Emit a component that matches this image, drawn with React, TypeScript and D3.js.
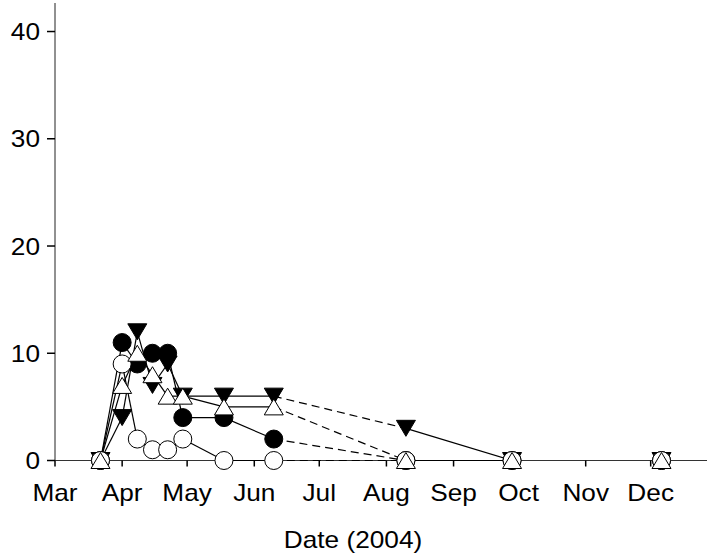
import React from 'react';
import * as d3 from 'd3';

const dates = ['2004-03-22', '2004-04-01', '2004-04-08', '2004-04-15', '2004-04-22', '2004-04-29', '2004-05-18', '2004-06-10', '2004-08-10', '2004-09-28', '2004-12-06'];
const filledCircle = [0, 11, 9, 10, 10, 4, 4, 2, 0, 0, 0];
const filledTriangle = [0, 4, 12, 7, 9, 6, 6, 6, 3, 0, 0];
const openCircle = [0, 9, 2, 1, 1, 2, 0, 0, 0, 0, 0];
const openTriangle = [0, 7, 10, 8, 6, 6, 5, 5, 0, 0, 0];
// style of segment joining point i to point i+1
const segmentStyle = ['solid', 'solid', 'solid', 'solid', 'solid', 'solid', 'solid', 'dashed', 'solid', 'none'];
const monthTicks = ['2004-03-01', '2004-04-01', '2004-05-01', '2004-06-01', '2004-07-01', '2004-08-01', '2004-09-01', '2004-10-01', '2004-11-01', '2004-12-01'];
const monthLabels = ['Mar', 'Apr', 'May', 'Jun', 'Jul', 'Aug', 'Sep', 'Oct', 'Nov', 'Dec'];
const yTicks = [0, 10, 20, 30, 40];
const xTitle = 'Date (2004)';

const parse = d3.timeParse('%Y-%m-%d');
const FONT = '"Liberation Sans", Arial, Helvetica, sans-serif';
const STRETCH = 1.14;
const FS = 23;

type Kind = 'filledCircle' | 'filledTriangle' | 'openCircle' | 'openTriangle';
const series: { kind: Kind; values: number[] }[] = [
  { kind: 'filledCircle', values: filledCircle },
  { kind: 'filledTriangle', values: filledTriangle },
  { kind: 'openCircle', values: openCircle },
  { kind: 'openTriangle', values: openTriangle },
];

export default function App() {
  const W = 707, H = 556;
  const x0 = 55, x1 = 707, y0 = 460.5, yTop = 3;
  const x = d3.scaleTime().domain([parse('2004-03-01')!, parse('2004-12-27')!]).range([x0, x1]);
  const y = d3.scaleLinear().domain([0, 42.66]).range([y0, yTop]);
  const pts = dates.map((d) => parse(d)!);
  const line = d3.line<[number, number]>().x((p) => p[0]).y((p) => p[1]);

  const marker = (kind: Kind, cx: number, cy: number, key: string) => {
    const r = 9, hw = 9.5, hh = 8;
    if (kind === 'filledCircle') return <circle key={key} cx={cx} cy={cy} r={r} fill="#000" stroke="#000" strokeWidth={1} />;
    if (kind === 'openCircle') return <circle key={key} cx={cx} cy={cy} r={r} fill="#fff" stroke="#000" strokeWidth={1} />;
    if (kind === 'filledTriangle')
      return <path key={key} d={`M${cx - hw},${cy - hh}L${cx + hw},${cy - hh}L${cx},${cy + hh}Z`} fill="#000" stroke="#000" strokeWidth={1} />;
    return <path key={key} d={`M${cx},${cy - hh}L${cx + hw},${cy + hh}L${cx - hw},${cy + hh}Z`} fill="#fff" stroke="#000" strokeWidth={1} />;
  };

  return (
    <svg width={W} height={H} style={{ position: 'absolute', left: 0, top: 0, background: '#fff' }} fontFamily={FONT}>
      {/* axes */}
      <line x1={x0} x2={x0} y1={yTop} y2={y0} stroke="#222" strokeWidth={1} />
      <line x1={x0} x2={x1} y1={y0} y2={y0} stroke="#333" strokeWidth={1} />
      {yTicks.map((t) => (
        <g key={'y' + t}>
          <line x1={x0 - 8} x2={x0} y1={y(t)} y2={y(t)} stroke="#000" strokeWidth={1.5} />
          <text transform={`translate(${x0 - 15},${y(t) + 8.5}) scale(${STRETCH},1)`} textAnchor="end" fontSize={FS} fill="#000">{t}</text>
        </g>
      ))}
      {monthTicks.map((m, i) => {
        const px = x(parse(m)!);
        return (
          <g key={'x' + m}>
            <line x1={px} x2={px} y1={y0} y2={y0 + 6} stroke="#000" strokeWidth={1.5} />
            <text transform={`translate(${px},${500.5}) scale(${STRETCH},1)`} textAnchor="middle" fontSize={FS} fill="#000">{monthLabels[i]}</text>
          </g>
        );
      })}
      <text transform={`translate(${353},${548}) scale(${STRETCH},1)`} textAnchor="middle" fontSize={FS} fill="#000">{xTitle}</text>
      {/* lines */}
      {series.map((s) =>
        s.values.slice(0, -1).map((v, i) => {
          const st = segmentStyle[i];
          if (st === 'none') return null;
          const d = line([
            [x(pts[i]), y(v)],
            [x(pts[i + 1]), y(s.values[i + 1])],
          ]);
          return (
            <path key={s.kind + 'l' + i} d={d || ''} fill="none" stroke="#000" strokeWidth={1.2} strokeDasharray={st === 'dashed' ? '8,5' : undefined} />
          );
        })
      )}
      {/* markers */}
      {series.map((s) => s.values.map((v, i) => marker(s.kind, x(pts[i]), y(v), s.kind + 'm' + i)))}
    </svg>
  );
}
